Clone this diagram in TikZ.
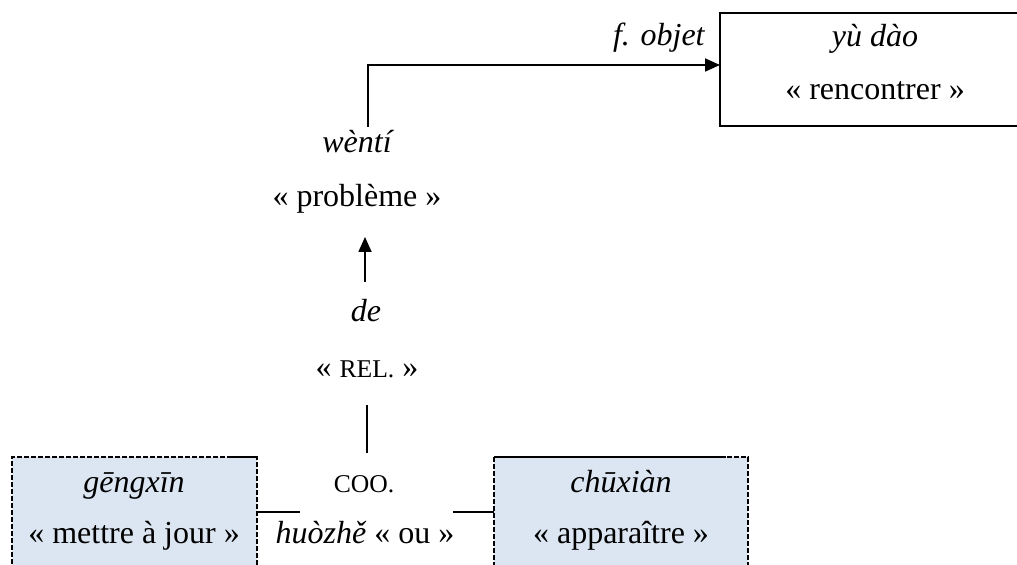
\documentclass[tikz,border=0pt]{standalone}
\usepackage{fontspec}
\setmainfont{Liberation Serif}[ItalicFont={Liberation Serif Italic}, BoldFont={Liberation Serif Bold}]
\usetikzlibrary{arrows.meta}
\definecolor{boxblue}{HTML}{DCE6F2}
\tikzset{
  txt/.style={anchor=base, inner sep=0pt, font=\fontsize{16}{19}\selectfont},
  ittxt/.style={anchor=base, inner sep=0pt, font=\fontsize{16}{19}\selectfont\itshape},
  conn/.style={line width=0.9pt},
  arr/.style={line width=0.9pt, -{Triangle[length=7.5pt,width=6.5pt]}},
  plainbox/.style={draw, line width=1.4pt, inner sep=0pt, outer sep=0pt},
  dbox/.style={draw, line width=1.4pt, dash pattern=on 2.5pt off 1pt, fill=boxblue, inner sep=0pt, outer sep=0pt},
}
\newcommand{\smc}[1]{{\fontsize{12.8}{15}\selectfont #1}}
\begin{document}
\begin{tikzpicture}[x=0.5pt,y=-0.5pt]
\clip (0,0) rectangle (1017,565);
\fill[white] (0,0) rectangle (1017,565);

% boxes
\node[plainbox, minimum width=155pt, minimum height=56.5pt] (topbox) at (875,69.5) {};
\node[dbox, minimum width=122.5pt, minimum height=71.5pt] (leftbox) at (134.5,528.5) {};
\node[dbox, minimum width=127pt, minimum height=71.5pt] (rightbox) at (621,528.5) {};
\coordinate (ls) at (232,457);
\draw[line width=1.4pt] (ls) -- (ls -| leftbox.east);
\coordinate (rs) at (726,457);
\draw[line width=1.4pt] (rightbox.north west) -- (rs);

% texts
\node[ittxt] (yudao) at (875,47) {yù dào};
\node[txt] (rencontrer) at (875,100) {« rencontrer »};
\node[ittxt, anchor=base east] (fobjet) at (705,46) {f. objet};
\node[ittxt] (wenti) at (357,153) {wèntí};
\node[txt] (probleme) at (357,207) {« problème »};
\node[ittxt] (de) at (366,322) {de};
\node[txt] (rel) at (367,378) {« \smc{REL.} »};
\node[txt] (coo) at (364,493) {\smc{COO.}};
\node[txt] (huozhe) at (365,544) {\textit{huòzhě} « ou »};
\node[ittxt] (gengxin) at (134,493) {gēngxīn};
\node[txt] (mettre) at (134,544) {« mettre à jour »};
\node[ittxt] (chuxian) at (621,493) {chūxiàn};
\node[txt] (apparaitre) at (621,544) {« apparaître »};

% connectors
\coordinate (t0) at (368,127);
\coordinate (t1) at (368,65);
\draw[arr] (t0) -- (t1) -- (t1 -| topbox.west);

\coordinate (a1) at (365,282);
\coordinate (a2) at (365,237);
\draw[arr] (a1) -- (a2);

\coordinate (v1) at (367,405);
\coordinate (v2) at (367,453);
\draw[conn] (v1) -- (v2);

\coordinate (l1) at (300,512);
\draw[conn] (leftbox.east |- l1) -- (l1);
\coordinate (r1) at (453,512);
\draw[conn] (r1) -- (r1 -| rightbox.west);
\end{tikzpicture}
\end{document}
